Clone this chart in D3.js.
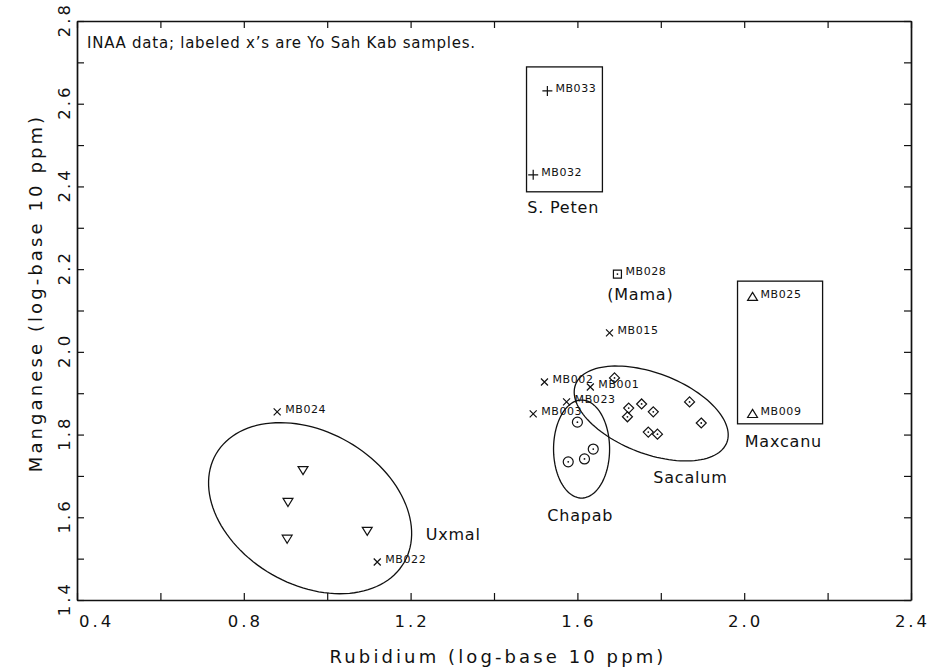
<!DOCTYPE html>
<html><head><meta charset="utf-8">
<script src="https://cdn.jsdelivr.net/npm/d3@7"></script>
<style>
body{margin:0;background:#fff}
text{font-family:"DejaVu Sans",sans-serif;fill:#111}
</style>
</head><body>
<svg id="c" width="929" height="669"></svg>
<script>
// ---------- data ----------
const xTickValues = [0.4,0.6,0.8,1.0,1.2,1.4,1.6,1.8,2.0,2.2,2.4];
const xTickLabels = ["0.4","0.8","1.2","1.6","2.0","2.4"];
const yTickValues = [1.4,1.5,1.6,1.7,1.8,1.9,2.0,2.1,2.2,2.3,2.4,2.5,2.6,2.7,2.8];
const yTickLabels = ["1.4","1.6","1.8","2.0","2.2","2.4","2.6","2.8"];

// S. Peten (+)
const sPetenIds = ["MB033","MB032"];
const sPetenRb  = [1.528, 1.494];
const sPetenMn  = [2.631, 2.428];
// Mama (dotted square)
const mamaIds = ["MB028"];
const mamaRb  = [1.696];
const mamaMn  = [2.188];
// Maxcanu (triangle up)
const maxcanuIds = ["MB025","MB009"];
const maxcanuRb  = [2.020, 2.020];
const maxcanuMn  = [2.133, 1.850];
// Yo Sah Kab samples (x)
const yskIds = ["MB015","MB002","MB001","MB023","MB003","MB024","MB022"];
const yskRb  = [1.677, 1.521, 1.631, 1.574, 1.494, 0.880, 1.120];
const yskMn  = [2.046, 1.927, 1.915, 1.879, 1.850, 1.855, 1.492];
// Uxmal (triangle down)
const uxmalRb = [0.942, 0.906, 0.904, 1.096];
const uxmalMn = [1.714, 1.637, 1.548, 1.567];
// Chapab (dotted circle)
const chapabRb = [1.600, 1.578, 1.617, 1.638];
const chapabMn = [1.830, 1.734, 1.741, 1.765];
// Sacalum (dotted diamond)
const sacalumRb = [1.689, 1.723, 1.720, 1.754, 1.782, 1.770, 1.792, 1.869, 1.897];
const sacalumMn = [1.937, 1.864, 1.843, 1.874, 1.855, 1.806, 1.801, 1.879, 1.828];

// group ellipses: centre and two conjugate half-axis vectors (data units)
const ellipseNames = ["Uxmal","Sacalum","Chapab"];
const ellipseCenter = [[0.959,1.622],[1.777,1.851],[1.610,1.765]];
const ellipseU = [[0.2256,-0.1310],[0.1814,-0.0701],[0.0672,0]];
const ellipseV = [[-0.0917,-0.1601],[-0.0346,-0.0909],[0,-0.1185]];

// group boxes [x0,x1,y0,y1] (data units)
const boxNames = ["S. Peten","Maxcanu"];
const boxExtent = [[1.478,1.660,2.387,2.689],[1.984,2.188,1.826,2.171]];

// group labels (centre x, baseline y in data units)
const groupLabels = ["S. Peten","(Mama)","Sacalum","Chapab","Uxmal","Maxcanu"];
const groupLabelRb = [1.566, 1.751, 1.871, 1.607, 1.302, 2.094];
const groupLabelMn = [2.336, 2.125, 1.683, 1.591, 1.545, 1.770];

const note = "INAA data; labeled x\u2019s are Yo Sah Kab samples.";
const xTitle = "Rubidium (log-base 10 ppm)";
const yTitle = "Manganese (log-base 10 ppm)";

// ---------- layout ----------
const L = 77, R = 911, T = 21, B = 600;
const svg = d3.select("#c");
const x = d3.scaleLinear().domain([0.4, 2.4]).range([L, R]);
const y = d3.scaleLinear().domain([1.4, 2.8]).range([B, T]);
const ink = "#111";

// axes (ticks inward on all four sides)
function styleAxis(g){
  g.selectAll("path.domain").attr("stroke", ink).attr("stroke-width", 1.7);
  g.selectAll(".tick line").attr("stroke", ink).attr("stroke-width", 1.2);
  g.selectAll(".tick text").remove();
}
svg.append("g").attr("transform",`translate(0,${B})`)
  .call(d3.axisBottom(x).tickValues(xTickValues).tickSizeInner(-7).tickSizeOuter(0)).call(styleAxis);
svg.append("g").attr("transform",`translate(0,${T})`)
  .call(d3.axisTop(x).tickValues(xTickValues).tickSizeInner(-7).tickSizeOuter(0)).call(styleAxis);
svg.append("g").attr("transform",`translate(${L},0)`)
  .call(d3.axisLeft(y).tickValues(yTickValues).tickSizeInner(-7).tickSizeOuter(0)).call(styleAxis);
svg.append("g").attr("transform",`translate(${R},0)`)
  .call(d3.axisRight(y).tickValues(yTickValues).tickSizeInner(-7).tickSizeOuter(0)).call(styleAxis);

// tick labels
svg.append("g").selectAll("text").data(xTickLabels).join("text")
  .attr("x", (d,i) => i === 0 ? x(+d) + 2 : x(+d) + 1.5)
  .attr("y", 627)
  .attr("text-anchor", (d,i) => i === 0 ? "start" : "middle")
  .attr("font-size", 16.5).attr("letter-spacing", 3)
  .text(d => d);
svg.append("g").selectAll("text").data(yTickLabels).join("text")
  .attr("transform", d => `translate(70,${y(+d) - 1.5}) rotate(-90)`)
  .attr("text-anchor", "middle")
  .attr("font-size", 16.5).attr("letter-spacing", 3)
  .text(d => d);

// axis titles
svg.append("text").attr("x", (L+R)/2 + 4).attr("y", 663)
  .attr("text-anchor","middle").attr("font-size", 18).attr("letter-spacing", 3.1)
  .text(xTitle);
svg.append("text").attr("transform", `translate(42,${293}) rotate(-90)`)
  .attr("text-anchor","middle").attr("font-size", 18).attr("letter-spacing", 3.1)
  .text(yTitle);

// note
svg.append("text").attr("x", L + 10).attr("y", T + 27)
  .attr("font-size", 15).attr("letter-spacing", 0.75).text(note);

// ellipses
const ts = d3.range(0, 361, 3).map(a => a * Math.PI / 180);
const line = d3.line().curve(d3.curveLinearClosed);
svg.append("g").selectAll("path").data(ellipseNames).join("path")
  .attr("d", (n,i) => line(ts.map(t => [
      x(ellipseCenter[i][0] + Math.cos(t)*ellipseU[i][0] + Math.sin(t)*ellipseV[i][0]),
      y(ellipseCenter[i][1] + Math.cos(t)*ellipseU[i][1] + Math.sin(t)*ellipseV[i][1])])))
  .attr("fill","none").attr("stroke", ink).attr("stroke-width", 1.3);

// boxes
svg.append("g").selectAll("rect").data(boxNames).join("rect")
  .attr("x", (n,i) => x(boxExtent[i][0]))
  .attr("y", (n,i) => y(boxExtent[i][3]))
  .attr("width", (n,i) => x(boxExtent[i][1]) - x(boxExtent[i][0]))
  .attr("height", (n,i) => y(boxExtent[i][2]) - y(boxExtent[i][3]))
  .attr("fill","none").attr("stroke", ink).attr("stroke-width", 1.3);

// group labels
svg.append("g").selectAll("text").data(groupLabels).join("text")
  .attr("x", (d,i) => x(groupLabelRb[i]))
  .attr("y", (d,i) => y(groupLabelMn[i]))
  .attr("text-anchor","middle").attr("font-size", 16).attr("letter-spacing", 0.8)
  .text(d => d);

// markers
const markers = {
  plus: s => `M${-s},0H${s}M0,${-s}V${s}`,
  cross: s => `M${-s},${-s}L${s},${s}M${-s},${s}L${s},${-s}`,
  square: s => `M${-s},${-s}H${s}V${s}H${-s}Z`,
  diamond: s => `M0,${-s}L${s},0L0,${s}L${-s},0Z`,
  triUp: s => `M0,${-s}L${s*1.1},${s*0.8}L${-s*1.1},${s*0.8}Z`,
  triDown: s => `M0,${s}L${s*1.1},${-s*0.8}L${-s*1.1},${-s*0.8}Z`,
  circle: s => `M${s},0A${s},${s} 0 1 1 ${-s},0A${s},${s} 0 1 1 ${s},0Z`
};
function drawGroup(rb, mn, type, size, dot, ids){
  const g = svg.append("g");
  const pts = rb.map((v,i) => ({rb: v, mn: mn[i], id: ids ? ids[i] : null}));
  g.selectAll("path").data(pts).join("path")
    .attr("transform", d => `translate(${x(d.rb)},${y(d.mn)})`)
    .attr("d", markers[type](size))
    .attr("fill","none").attr("stroke", ink).attr("stroke-width", 1.2);
  if (dot) g.selectAll("circle").data(pts).join("circle")
    .attr("cx", d => x(d.rb)).attr("cy", d => y(d.mn)).attr("r", 0.9).attr("fill", ink);
  if (ids) g.selectAll("text").data(pts).join("text")
    .attr("x", d => x(d.rb) + 8).attr("y", d => y(d.mn) + 1)
    .attr("font-size", 11).attr("letter-spacing", 0.6)
    .text(d => d.id);
}
drawGroup(sPetenRb, sPetenMn, "plus", 5, false, sPetenIds);
drawGroup(mamaRb, mamaMn, "square", 4, true, mamaIds);
drawGroup(maxcanuRb, maxcanuMn, "triUp", 4.5, false, maxcanuIds);
drawGroup(yskRb, yskMn, "cross", 3.5, false, yskIds);
drawGroup(uxmalRb, uxmalMn, "triDown", 4.5, false, null);
drawGroup(chapabRb, chapabMn, "circle", 5, true, null);
drawGroup(sacalumRb, sacalumMn, "diamond", 5, true, null);
</script>
</body></html>
